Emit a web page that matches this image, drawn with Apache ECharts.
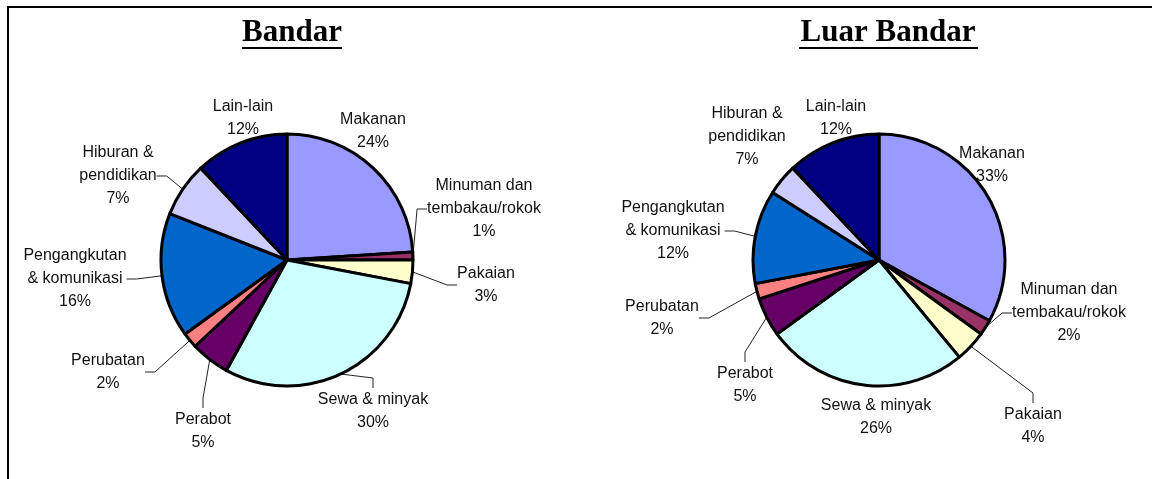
<!DOCTYPE html>
<html>
<head>
<meta charset="utf-8">
<script src="https://cdn.jsdelivr.net/npm/echarts@6/dist/echarts.min.js"></script>
<style>
  html, body { margin: 0; padding: 0; background: #fff; }
  #chart { width: 1152px; height: 479px; }
</style>
</head>
<body>
<div id="chart"></div>
<script>
// categories, clockwise from 12 o'clock
const categories = [
  'Makanan', 'Minuman dan\ntembakau/rokok', 'Pakaian', 'Sewa & minyak', 'Perabot',
  'Perubatan', 'Pengangkutan\n& komunikasi', 'Hiburan &\npendidikan', 'Lain-lain'
]
const colors = ['#9999FF', '#993366', '#FFFFCC', '#CCFFFF', '#660066', '#FF8080', '#0066CC', '#CCCCFF', '#000080']

// Bandar
const bandarShare = [24, 1, 3, 30, 5, 2, 16, 7, 12]
const bandarPct = [24, 1, 3, 30, 5, 2, 16, 7, 12]
// Luar Bandar: slice sizes as drawn, percentages as printed
const luarShare = [33, 2, 4, 26, 5, 2, 12, 4, 12]
const luarPct = [33, 2, 4, 26, 5, 2, 12, 7, 12]

// label placement (block centres) and whether a leader line is drawn
const bandarLabelPos = [[373, 131], [484, 209], [486, 285], [373, 411], [203, 431], [108, 372], [75, 279], [118, 176], [243, 118]]
const bandarLine = [false, true, true, true, true, true, true, true, false]
const luarLabelPos = [[992, 165], [1069, 313], [1033, 426], [876, 417], [745, 385], [662, 318], [673, 231], [747, 137], [836, 118]]
const luarLine = [false, true, true, false, true, true, true, false, false]

const labelFont = '"Liberation Sans", Arial, sans-serif'

function buildData (share, pct, lines) {
  return categories.map((name, i) => ({
    name: name,
    value: share[i],
    pct: pct[i],
    itemStyle: { color: colors[i] },
    labelLine: { show: lines[i] }
  }))
}

function pieSeries (center, data, pos) {
  return {
    type: 'pie',
    center: center,
    radius: 126,
    startAngle: 90,
    clockwise: true,
    avoidLabelOverlap: false,
    animation: false,
    itemStyle: { borderColor: '#000', borderWidth: 3 },
    emphasis: { disabled: true },
    label: {
      show: true,
      position: 'outside',
      color: '#111',
      fontFamily: labelFont,
      fontSize: 16,
      lineHeight: 23,
      align: 'center',
      formatter: p => p.name + '\n' + p.data.pct + '%'
    },
    labelLine: {
      show: true,
      length: 10,
      length2: 10,
      lineStyle: { color: '#222', width: 1 }
    },
    labelLayout: p => ({
      x: pos[p.dataIndex][0],
      y: pos[p.dataIndex][1],
      align: 'center',
      verticalAlign: 'middle'
    }),
    data: data
  }
}

const chart = echarts.init(document.getElementById('chart'))
chart.setOption({
  backgroundColor: '#fff',
  graphic: [
    {
      type: 'polyline',
      shape: { points: [[8, 479], [8, 7], [1152, 7]] },
      style: { stroke: '#000', lineWidth: 2, fill: null }
    },
    {
      type: 'text',
      x: 292, y: 33,
      style: { text: 'Bandar', font: 'bold 31px "Liberation Serif", "Times New Roman", serif', fill: '#000', textAlign: 'center', textVerticalAlign: 'middle' }
    },
    {
      type: 'line',
      shape: { x1: 242, y1: 48, x2: 342, y2: 48 },
      style: { stroke: '#000', lineWidth: 2 }
    },
    {
      type: 'text',
      x: 888, y: 33,
      style: { text: 'Luar Bandar', font: 'bold 31px "Liberation Serif", "Times New Roman", serif', fill: '#000', textAlign: 'center', textVerticalAlign: 'middle' }
    },
    {
      type: 'line',
      shape: { x1: 799, y1: 48, x2: 978, y2: 48 },
      style: { stroke: '#000', lineWidth: 2 }
    }
  ],
  series: [
    pieSeries([287, 260], buildData(bandarShare, bandarPct, bandarLine), bandarLabelPos),
    pieSeries([879, 260], buildData(luarShare, luarPct, luarLine), luarLabelPos)
  ]
})
</script>
</body>
</html>
